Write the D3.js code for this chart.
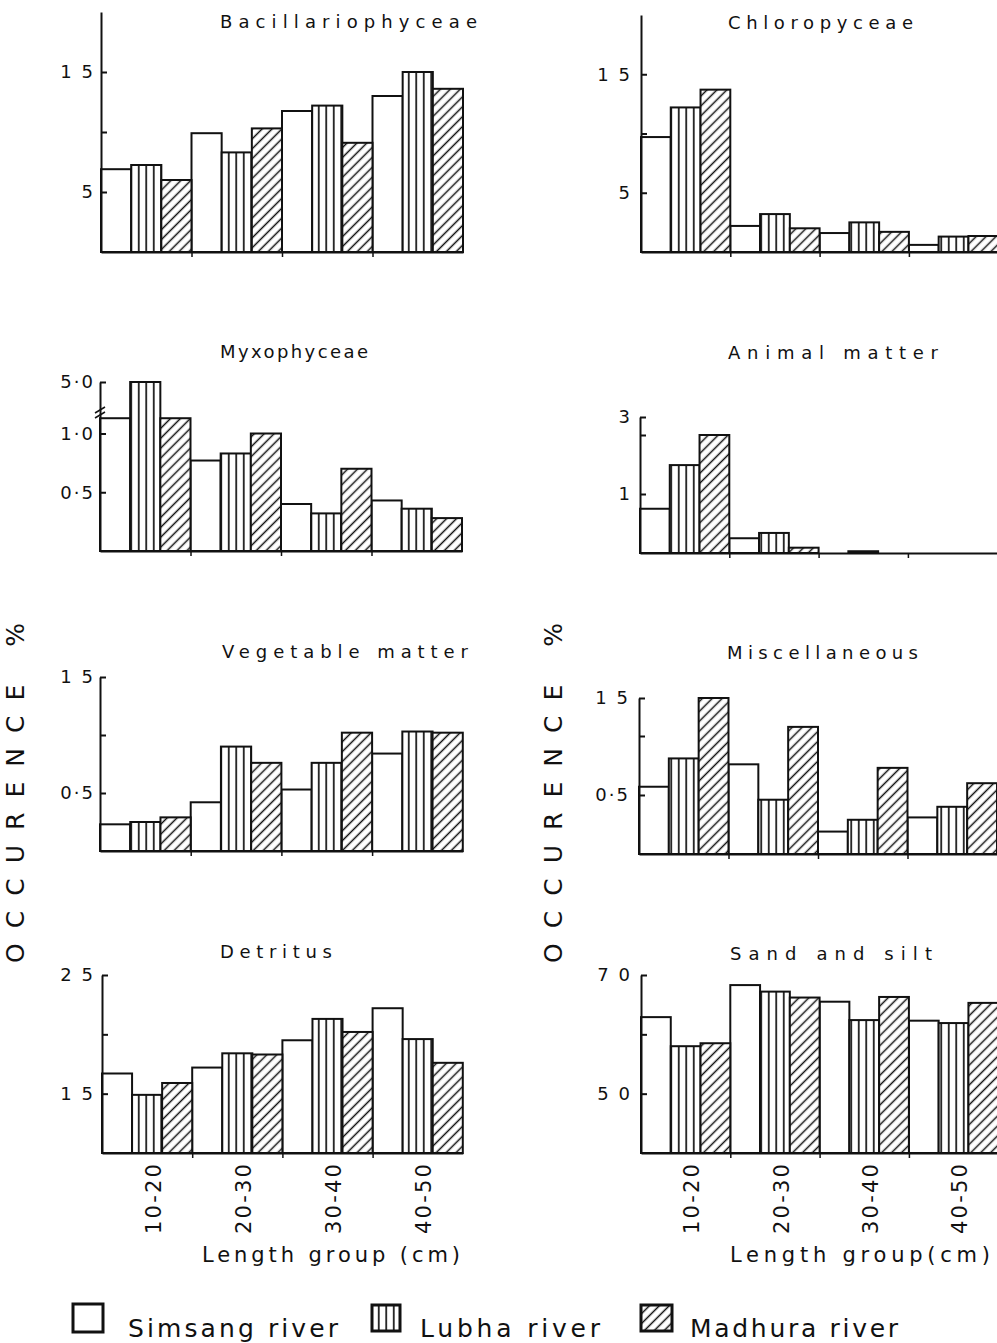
<!DOCTYPE html>
<html>
<head>
<meta charset="utf-8">
<script src="https://cdn.jsdelivr.net/npm/d3@7"></script>
<style>
  body { margin: 0; background: #fff; }
  svg { display: block; }
  text { font-family: "DejaVu Sans", sans-serif; fill: #111; }
  .title { font-size: 18px; }
  .tick text { font-size: 18px; letter-spacing: 2px; }
  .grp { font-size: 21px; }
  .xlabel { font-size: 21px; }
  .ylabel { font-size: 25px; }
  .legend { font-size: 25px; }
</style>
</head>
<body>
<script>
// categories
var groups = ["10-20", "20-30", "30-40", "40-50"];
var rivers = ["Simsang river", "Lubha river", "Madhura river"];

// occurrence % : one row per river (Simsang, Lubha, Madhura), one value per length group
var bacillariophyceae = [[6.9, 9.9, 11.75, 13.0], [7.25, 8.3, 12.2, 15.0], [6.0, 10.3, 9.1, 13.6]];
var chloropyceae      = [[9.7, 2.2, 1.6, 0.6], [12.2, 3.2, 2.5, 1.3], [13.7, 2.0, 1.7, 1.35]];
var myxophyceae       = [[1.13, 0.77, 0.40, 0.43], [5.0, 0.83, 0.32, 0.36], [1.13, 1.0, 0.70, 0.28]];
var animalMatter      = [[0.75, 0.25, 0, 0], [1.49, 0.34, 0.03, 0], [2.0, 0.09, 0, 0]];
var vegetableMatter   = [[0.23, 0.42, 0.53, 0.84], [0.25, 0.90, 0.76, 1.03], [0.29, 0.76, 1.02, 1.02]];
var miscellaneous     = [[0.57, 0.76, 0.19, 0.31], [0.81, 0.46, 0.29, 0.40], [1.5, 1.12, 0.73, 0.60]];
var detritus          = [[1.67, 1.72, 1.95, 2.22], [1.49, 1.84, 2.13, 1.96], [1.59, 1.83, 2.02, 1.76]];
var sandSilt          = [[62.9, 68.3, 65.5, 62.3], [58.0, 67.2, 62.4, 61.9], [58.5, 66.2, 66.3, 65.3]];

// y axis domains, tick values and tick labels (as printed)
var bacDomain = [0, 20],        bacTicks = [5, 10, 15],      bacLabels = ["5", "", "1 5"];
var chlDomain = [0, 20],        chlTicks = [5, 10, 15],      chlLabels = ["5", "", "1 5"];
var myxDomain = [0, 1.2, 5],    myxTicks = [0.5, 1, 5],      myxLabels = ["0·5", "1·0", "5·0"];
var aniDomain = [0, 2, 3],      aniTicks = [1, 2, 3],        aniLabels = ["1", "", "3"];
var vegDomain = [0, 1.5],       vegTicks = [0.5, 1, 1.5],    vegLabels = ["0·5", "", "1 5"];
var misDomain = [0, 1, 1.5],    misTicks = [0.5, 1, 1.5],    misLabels = ["0·5", "", "1 5"];
var detDomain = [1, 2.5],       detTicks = [1.5, 2, 2.5],    detLabels = ["1 5", "", "2 5"];
var sndDomain = [40, 70],       sndTicks = [50, 60, 70],     sndLabels = ["5 0", "", "7 0"];

var svg = d3.select("body").append("svg")
    .attr("width", 997)
    .attr("height", 1343);

// fill patterns
var defs = svg.append("defs");
var vert = defs.append("pattern").attr("id", "vert")
    .attr("patternUnits", "userSpaceOnUse").attr("width", 7.5).attr("height", 10);
vert.append("rect").attr("width", 7.5).attr("height", 10).attr("fill", "#fff");
vert.append("line").attr("x1", 3.75).attr("x2", 3.75).attr("y1", 0).attr("y2", 10)
    .attr("stroke", "#111").attr("stroke-width", 1.7);

var diag = defs.append("pattern").attr("id", "diag")
    .attr("patternUnits", "userSpaceOnUse").attr("width", 7).attr("height", 7)
    .attr("patternTransform", "rotate(45)");
diag.append("rect").attr("width", 7).attr("height", 7).attr("fill", "#fff");
diag.append("line").attr("x1", 3.5).attr("x2", 3.5).attr("y1", 0).attr("y2", 7)
    .attr("stroke", "#111").attr("stroke-width", 1.5);

var fills = ["#fff", "url(#vert)", "url(#diag)"];

// panel layout
var panels = [
  {title: "Bacillariophyceae", data: bacillariophyceae, domain: bacDomain, ticks: bacTicks, labels: bacLabels,
   x0: 101, gw: 90.5, range: [252, 12], titleX: 220, titleY: 28, titleW: 257, pad: 6},
  {title: "Chloropyceae", data: chloropyceae, domain: chlDomain, ticks: chlTicks, labels: chlLabels,
   x0: 641, gw: 89.3, range: [252, 15], titleX: 728, titleY: 29, titleW: 185, pad: 9},
  {title: "Myxophyceae", data: myxophyceae, domain: myxDomain, ticks: myxTicks, labels: myxLabels,
   x0: 100, gw: 90.5, range: [551, 410, 382], titleX: 220, titleY: 358, titleW: 148, pad: 5, brk: true},
  {title: "Animal  matter", data: animalMatter, domain: aniDomain, ticks: aniTicks, labels: aniLabels,
   x0: 640, gw: 89.3, range: [553, 435, 417], titleX: 728, titleY: 359, titleW: 210, pad: 8},
  {title: "Vegetable  matter", data: vegetableMatter, domain: vegDomain, ticks: vegTicks, labels: vegLabels,
   x0: 100, gw: 90.7, range: [851, 677], titleX: 222, titleY: 658, titleW: 246, pad: 5},
  {title: "Miscellaneous", data: miscellaneous, domain: misDomain, ticks: misTicks, labels: misLabels,
   x0: 639, gw: 89.5, range: [854, 736, 698], titleX: 727, titleY: 659, titleW: 191, pad: 9},
  {title: "Detritus", data: detritus, domain: detDomain, ticks: detTicks, labels: detLabels,
   x0: 102, gw: 90.2, range: [1153, 975], titleX: 220, titleY: 958, titleW: 112, pad: 7, bottom: true,
   xlabel: "Length  group (cm)", xlX: 202, xlW: 258},
  {title: "Sand  and  silt", data: sandSilt, domain: sndDomain, ticks: sndTicks, labels: sndLabels,
   x0: 641, gw: 89.3, range: [1153, 975], titleX: 730, titleY: 960, titleW: 202, pad: 9, bottom: true,
   xlabel: "Length  group(cm)", xlX: 730, xlW: 260}
];

panels.forEach(function(p) {
  var g = svg.append("g");

  var x = d3.scaleBand().domain(groups).range([p.x0, p.x0 + 4 * p.gw]).padding(0);
  var xs = d3.scaleBand().domain(d3.range(rivers.length)).range([0, x.bandwidth()]).padding(0);
  var xLin = d3.scaleLinear().domain([0, groups.length]).range([p.x0, p.x0 + 4 * p.gw]);
  var y = d3.scaleLinear().domain(p.domain).range(p.range);
  var base = p.domain[0];

  // bars
  p.data.forEach(function(row, ri) {
    g.selectAll(".bar-" + ri)
      .data(row)
      .enter().append("rect")
        .attr("class", "bar-" + ri)
        .attr("x", function(d, i) { return x(groups[i]) + xs(ri); })
        .attr("width", xs.bandwidth())
        .attr("y", function(d) { return y(d); })
        .attr("height", function(d) { return y(base) - y(d); })
        .attr("fill", fills[ri])
        .attr("stroke", "#111")
        .attr("stroke-width", 2);
  });

  // x axis: baseline with ticks between length groups
  g.append("g")
    .attr("transform", "translate(0," + y(base) + ")")
    .call(d3.axisBottom(xLin).tickValues([1, 2, 3]).tickFormat("").tickSizeInner(5).tickSizeOuter(0))
    .call(function(a) {
      a.select(".domain").attr("stroke", "#111").attr("stroke-width", 2);
      a.selectAll(".tick line").attr("stroke", "#111").attr("stroke-width", 1.5);
    });

  // y axis: ticks point into the plot, labels on the left
  g.append("g")
    .attr("transform", "translate(" + p.x0 + ",0)")
    .call(d3.axisLeft(y).tickValues(p.ticks)
      .tickFormat(function(d, i) { return p.labels[i]; })
      .tickSizeInner(-6).tickSizeOuter(0).tickPadding(p.pad))
    .call(function(a) {
      a.select(".domain").attr("stroke", "#111").attr("stroke-width", 2);
      a.selectAll(".tick line").attr("stroke", "#111").attr("stroke-width", 2);
      a.selectAll(".tick text").attr("fill", "#111");
    });

  // axis break mark
  if (p.brk) {
    [0, 5].forEach(function(off) {
      g.append("line")
        .attr("x1", p.x0 - 5).attr("y1", y(1.2) + off + 3)
        .attr("x2", p.x0 + 5).attr("y2", y(1.2) + off - 3)
        .attr("stroke", "#111").attr("stroke-width", 1.5);
    });
  }

  // panel title
  g.append("text")
    .attr("class", "title")
    .attr("x", p.titleX)
    .attr("y", p.titleY)
    .attr("textLength", p.titleW)
    .attr("lengthAdjust", "spacing")
    .text(p.title);

  if (p.bottom) {
    g.selectAll(".grp")
      .data(groups)
      .enter().append("text")
        .attr("class", "grp")
        .attr("transform", function(d) {
          return "translate(" + (x(d) + x.bandwidth() / 2 + 6) + "," + (y(base) + 11) + ") rotate(-90)";
        })
        .attr("text-anchor", "end")
        .attr("dy", "0.36em")
        .attr("textLength", 70)
        .attr("lengthAdjust", "spacing")
        .text(function(d) { return d; });

    g.append("text")
      .attr("class", "xlabel")
      .attr("x", p.xlX)
      .attr("y", 1262)
      .attr("textLength", p.xlW)
      .attr("lengthAdjust", "spacing")
      .text(p.xlabel);
  }
});

// y axis titles
[15, 553].forEach(function(cx) {
  svg.append("text")
    .attr("class", "ylabel")
    .attr("transform", "translate(" + cx + ",793) rotate(-90)")
    .attr("text-anchor", "middle")
    .attr("dy", "0.36em")
    .attr("textLength", 340)
    .attr("lengthAdjust", "spacing")
    .text("OCCURENCE  %");
});

// legend
var legendBox = [[73, 1304, 30, 28], [372, 1305, 28, 26], [641, 1305, 31, 26]];
var legendText = [[128, 210], [420, 180], [690, 208]];
rivers.forEach(function(r, i) {
  svg.append("rect")
    .attr("x", legendBox[i][0]).attr("y", legendBox[i][1])
    .attr("width", legendBox[i][2]).attr("height", legendBox[i][3])
    .attr("fill", fills[i])
    .attr("stroke", "#111")
    .attr("stroke-width", 3);
  svg.append("text")
    .attr("class", "legend")
    .attr("x", legendText[i][0])
    .attr("y", 1337)
    .attr("textLength", legendText[i][1])
    .attr("lengthAdjust", "spacing")
    .text(r.replace(" ", "  "));
});
</script>
</body>
</html>
